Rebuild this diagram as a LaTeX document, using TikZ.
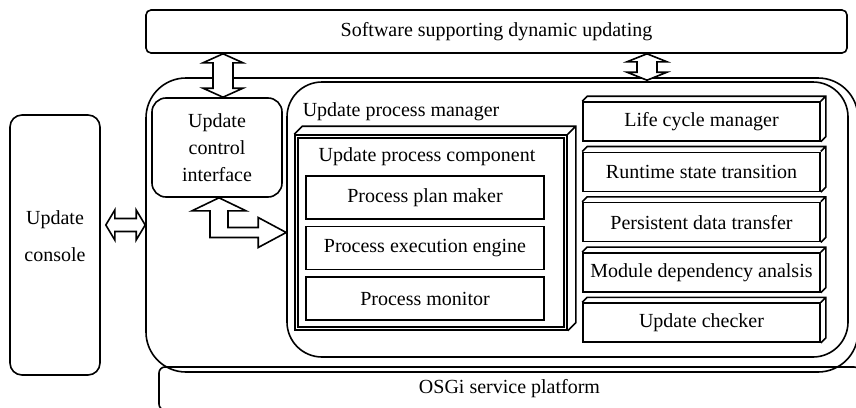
\documentclass[tikz,border=0pt]{standalone}
\usepackage{fontspec}
\setmainfont{Liberation Serif}
\usetikzlibrary{calc}

\tikzset{
  box/.style={draw, line width=0.8pt, inner sep=0pt, align=center, font=\fontsize{10}{13.5}\selectfont},
  lbl/.style={inner sep=0pt, align=center, font=\fontsize{10}{13.5}\selectfont},
  hollow/.style={draw, fill=white, line width=0.8pt}
}

\begin{document}
\begin{tikzpicture}[x=0.5pt, y=-0.5pt, line width=0.8pt]
\useasboundingbox (0,0) rectangle (856,407);
\node[box, minimum width=350.5pt, minimum height=21.5pt, rounded corners=2.5pt] (top) at (496.5,31.5) {Software supporting dynamic updating};
\node[box, minimum width=356pt, minimum height=147pt, rounded corners=20pt] (outer) at (502,225) {};
\node[box, minimum width=350.5pt, minimum height=21.5pt, rounded corners=3pt] (osgi) at (509.5,388.5) {OSGi service platform};
\node[box, minimum width=45pt, minimum height=130pt, rounded corners=6pt] (console) at (55,245) {};
\node[lbl, font=\fontsize{10}{18.5}\selectfont] (consolelabel) at (55,236) {Update\\console};
\node[box, minimum width=65pt, minimum height=49.5pt, rounded corners=7pt] (ctrl) at (217,147.5) {Update\\control\\interface};
\node[box, minimum width=280.5pt, minimum height=137.5pt, rounded corners=17.5pt] (mgr) at (567.5,219.5) {};
\node[lbl, anchor=west] (mgrlabel) at (302,112) {Update process manager};

\node[box, minimum width=136pt, minimum height=97.5pt] (comp) at (431,232.5) {};
\draw (comp.north west) -- ++(8,-8) -| ($(comp.south east)+(8,-8)$) -- (comp.south east) (comp.north east) -- ++(8,-8);
\draw ($(comp.north west)+(4,4)$) rectangle ($(comp.south east)+(-4,-4)$);
\node[lbl] (complabel) at (427,157) {Update process component};
\foreach \name/\txt [count=\i from 0] in {plan/Process plan maker, exec/Process execution engine, mon/Process monitor}
  \node[box, minimum width=119pt, minimum height=21.5pt] (\name) at (425,197.5+50.5*\i) {\txt};

\foreach \name/\txt [count=\i from 0] in {lcm/Life cycle manager, rst/Runtime state transition, pdt/Persistent data transfer, mda/Module dependency analsis, chk/Update checker} {
  \node[box, minimum width=118.5pt, minimum height=19.5pt] (\name) at (701.5,121.5+50.3*\i) {\txt};
  \draw (\name.north west) -- ++(5,-5) -| ($(\name.south east)+(5,-5)$) -- (\name.south east) (\name.north east) -- ++(5,-5);
}

\coordinate (tx) at (223,0);
\coordinate (ta) at (tx |- top.south);
\coordinate (tb) at (tx |- ctrl.north);
\draw[hollow] (ta) -- ++(20,9) -- ++(-10,0) -- ($(tb)+(10,-9)$) -- ++(10,0) -- (tb) -- ++(-20,-9) -- ++(10,0) -- ($(ta)+(-10,9)$) -- ++(-10,0) -- cycle;

\coordinate (rx) at (647,0);
\coordinate (ra) at (rx |- top.south);
\coordinate (rb) at ($(rx |- outer.north)+(0,3)$);
\draw[hollow] (ra) -- ++(20,8) -- ++(-10,0) -- ($(rb)+(10,-8)$) -- ++(10,0) -- (rb) -- ++(-20,-8) -- ++(10,0) -- ($(ra)+(-10,8)$) -- ++(-10,0) -- cycle;

\coordinate (la) at ($(console.east |- outer.west)+(5,0)$);
\coordinate (lb) at (outer.west);
\draw[hollow] (la) -- ++(9,-15) -- ++(0,8.5) -- ($(lb)+(-9,-6.5)$) -- ++(0,-8.5) -- (lb) -- ++(-9,15) -- ++(0,-8.5) -- ($(la)+(9,6.5)$) -- ++(0,8.5) -- cycle;

\coordinate (lt) at ($(ctrl.south)+(2,0)$);
\coordinate (rt) at (mgr.west |- comp.west);
\draw[hollow] (lt) -- ++(27,13) -- ++(-18,0) |- ($(rt)+(-28,-5)$) -- ++(0,-10) -- (rt) -- ++(-28,15) -- ++(0,-10) -| ($(lt)+(-9,13)$) -- ++(-18,0) -- cycle;
\end{tikzpicture}
\end{document}
